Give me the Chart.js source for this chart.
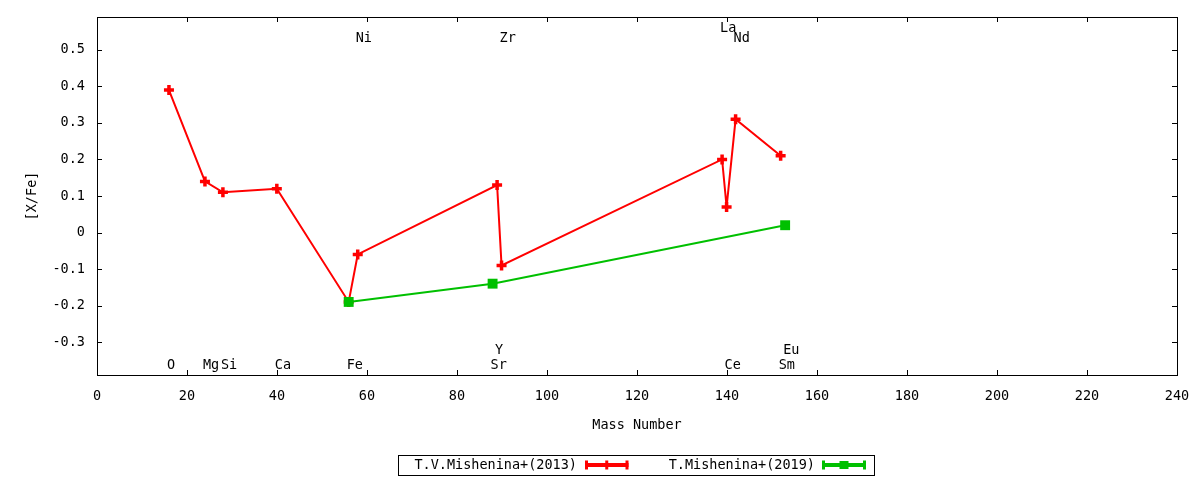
<!DOCTYPE html>
<html>
<head>
<meta charset="utf-8">
<script src="https://cdn.jsdelivr.net/npm/chart.js@4.4.0/dist/chart.umd.min.js"></script>
<style>
  html, body { margin: 0; padding: 0; background: #ffffff; }
  #wrap { position: relative; width: 1200px; height: 480px; }
</style>
</head>
<body>
<div id="wrap"><canvas id="c" width="1200" height="480"></canvas></div>
<script>
// ---- data ----
const massRed = [15.99, 23.99, 27.98, 39.96, 55.93, 57.94, 88.91, 89.90, 138.91, 139.91, 141.91, 151.92];
const valRed  = [0.39, 0.14, 0.11, 0.12, -0.19, -0.06, 0.13, -0.09, 0.20, 0.07, 0.31, 0.21];
const massGreen = [55.93, 87.91, 152.92];
const valGreen  = [-0.19, -0.14, 0.02];

const elemNames = ['O', 'Mg', 'Si', 'Ca', 'Fe', 'Ni', 'Sr', 'Y', 'Zr', 'La', 'Ce', 'Nd', 'Sm', 'Eu'];
const elemMass  = [15.99, 23.99, 27.98, 39.96, 55.93, 57.94, 87.91, 88.91, 89.90, 138.91, 139.91, 141.91, 151.92, 152.92];
const elemY     = [-0.358, -0.358, -0.358, -0.358, -0.358, 0.536, -0.358, -0.318, 0.536, 0.563, -0.358, 0.536, -0.358, -0.318];

const xTicks = [0, 20, 40, 60, 80, 100, 120, 140, 160, 180, 200, 220, 240];
const yTicks = [-0.3, -0.2, -0.1, 0, 0.1, 0.2, 0.3, 0.4, 0.5];

const seriesNames = ['T.V.Mishenina+(2013)', 'T.Mishenina+(2019)'];

const FONT = "'DejaVu Sans Mono', monospace";
const FSIZE = 13.5;
Chart.defaults.font.family = FONT;
Chart.defaults.font.size = FSIZE;
Chart.defaults.color = '#000000';

const RED = '#ff0000';
const GREEN = '#00c000';

const decorPlugin = {
  id: 'decor',
  afterDraw(chart) {
    const ctx = chart.ctx;
    const a = chart.chartArea;
    const xs = chart.scales.x, ys = chart.scales.y;
    ctx.save();
    // frame
    ctx.strokeStyle = '#000';
    ctx.lineWidth = 1;
    ctx.strokeRect(Math.round(a.left) + 0.5, Math.round(a.top) + 0.5,
                   Math.round(a.right - a.left), Math.round(a.bottom - a.top));
    // inward ticks
    const tl = 5;
    ctx.beginPath();
    xTicks.forEach(v => {
      const px = Math.round(xs.getPixelForValue(v)) + 0.5;
      ctx.moveTo(px, a.bottom); ctx.lineTo(px, a.bottom - tl);
      ctx.moveTo(px, a.top); ctx.lineTo(px, a.top + tl);
    });
    yTicks.forEach(v => {
      const py = Math.round(ys.getPixelForValue(v)) + 0.5;
      ctx.moveTo(a.left, py); ctx.lineTo(a.left + tl, py);
      ctx.moveTo(a.right, py); ctx.lineTo(a.right - tl, py);
    });
    ctx.stroke();

    // element labels
    ctx.fillStyle = '#000';
    ctx.font = FSIZE + 'px ' + FONT;
    ctx.textAlign = 'left';
    ctx.textBaseline = 'middle';
    elemNames.forEach((n, i) => {
      ctx.fillText(n, xs.getPixelForValue(elemMass[i]) - 2, ys.getPixelForValue(elemY[i]) + 2);
    });

    // axis titles
    ctx.textAlign = 'center';
    ctx.fillText('Mass Number', (a.left + a.right) / 2, 425);
    ctx.save();
    ctx.translate(32, (a.top + a.bottom) / 2);
    ctx.rotate(-Math.PI / 2);
    ctx.fillText('[X/Fe]', 0, 0);
    ctx.restore();

    // legend
    ctx.lineWidth = 1;
    ctx.strokeStyle = '#000';
    ctx.strokeRect(398.5, 455.5, 476, 20);
    const ly = 465;
    ctx.textAlign = 'right';
    ctx.fillText(seriesNames[0], 577, ly);
    ctx.fillText(seriesNames[1], 815, ly);
    function sample(x0, x1, col, style) {
      ctx.strokeStyle = col;
      ctx.fillStyle = col;
      ctx.lineWidth = 4;
      ctx.beginPath();
      ctx.moveTo(x0, ly); ctx.lineTo(x1, ly);
      ctx.stroke();
      ctx.lineWidth = 3;
      ctx.beginPath();
      ctx.moveTo(x0 + 1.5, ly - 4.5); ctx.lineTo(x0 + 1.5, ly + 4.5);
      ctx.moveTo(x1 - 1.5, ly - 4.5); ctx.lineTo(x1 - 1.5, ly + 4.5);
      ctx.stroke();
      const xm = (x0 + x1) / 2;
      if (style === 'cross') {
        ctx.beginPath();
        ctx.moveTo(xm, ly - 4.5); ctx.lineTo(xm, ly + 4.5);
        ctx.stroke();
      } else {
        ctx.fillRect(xm - 4.5, ly - 4, 9, 8);
      }
    }
    sample(585, 628.5, RED, 'cross');
    sample(822, 866, GREEN, 'rect');
    ctx.restore();
  }
};

const ctx = document.getElementById('c').getContext('2d');
new Chart(ctx, {
  type: 'scatter',
  data: {
    datasets: [
      {
        label: seriesNames[0],
        data: massRed.map((m, i) => ({ x: m, y: valRed[i] })),
        showLine: true,
        borderColor: RED,
        backgroundColor: RED,
        borderWidth: 2,
        pointStyle: 'cross',
        pointRadius: 5,
        pointBorderWidth: 3.5,
        pointBorderColor: RED,
        order: 1
      },
      {
        label: seriesNames[1],
        data: massGreen.map((m, i) => ({ x: m, y: valGreen[i] })),
        showLine: true,
        borderColor: GREEN,
        backgroundColor: GREEN,
        borderWidth: 2,
        pointStyle: 'rect',
        pointRadius: 7,
        pointBorderWidth: 0,
        order: 0
      }
    ]
  },
  options: {
    responsive: false,
    animation: false,
    layout: { padding: { top: 17, right: 23, left: 0, bottom: 0 } },
    plugins: { legend: { display: false }, tooltip: { enabled: false } },
    scales: {
      x: {
        type: 'linear',
        min: 0, max: 240,
        grid: { display: false, drawTicks: false },
        border: { display: false },
        ticks: { padding: 13, color: '#000', maxRotation: 0, autoSkip: false },
        afterBuildTicks(s) { s.ticks = xTicks.map(v => ({ value: v })); },
        afterFit(s) { s.height = 105; s.paddingLeft = 0; s.paddingRight = 0; }
      },
      y: {
        type: 'linear',
        min: -0.39, max: 0.59,
        grid: { display: false, drawTicks: false },
        border: { display: false },
        ticks: {
          padding: 12, color: '#000', autoSkip: false,
          callback: v => (Math.abs(v) < 1e-9 ? '0' : v.toFixed(1))
        },
        afterBuildTicks(s) { s.ticks = yTicks.map(v => ({ value: v })); },
        afterFit(s) { s.width = 97; s.paddingTop = 0; s.paddingBottom = 0; }
      }
    }
  },
  plugins: [decorPlugin]
});
</script>
</body>
</html>
